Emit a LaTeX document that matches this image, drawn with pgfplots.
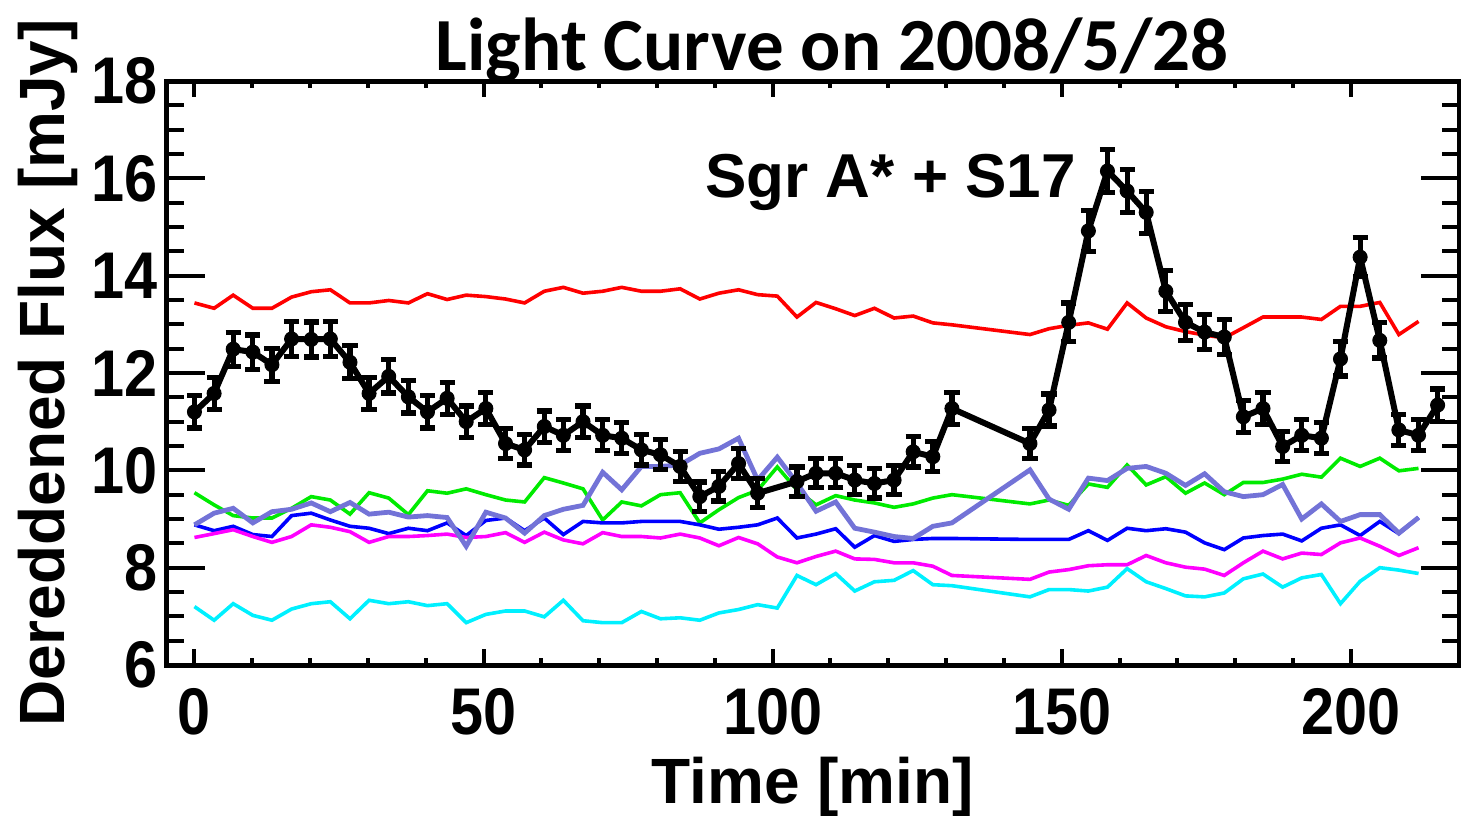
\documentclass[border=0pt]{standalone}
\usepackage{pgfplots}
\pgfplotsset{compat=1.18}
\usepackage{pgfplotstable}
\usepackage{fontspec}
\setmainfont{Liberation Sans}
\newfontfamily\titlefont{Carlito}
\newfontfamily\tickfont{Liberation Sans}[FakeStretch=0.9]

\definecolor{lcred}{RGB}{255,0,0}
\definecolor{lcgreen}{RGB}{0,235,0}
\definecolor{lcblue}{RGB}{0,0,255}
\definecolor{lcmagenta}{RGB}{255,0,255}
\definecolor{lccyan}{RGB}{0,240,255}
\definecolor{lcslate}{RGB}{115,115,215}

% time [min], Sgr A* + S17 flux and error, comparison stars
\pgfplotstableread{
t     black err  red   green blue magenta cyan purple
0.0   11.20 0.33 13.44 9.54  8.88 8.62 7.20 8.88
3.4   11.58 0.33 13.33 9.29  8.76 8.70 6.92 9.12
6.7   12.49 0.35 13.60 9.07  8.85 8.78 7.26 9.22
10.1  12.43 0.35 13.33 9.02  8.68 8.64 7.02 8.92
13.4  12.17 0.34 13.33 9.02  8.64 8.52 6.92 9.15
16.8  12.70 0.36 13.56 9.22  9.07 8.64 7.15 9.20
20.2  12.69 0.36 13.67 9.46  9.12 8.88 7.26 9.33
23.5  12.70 0.36 13.71 9.39  8.98 8.83 7.30 9.15
26.9  12.22 0.34 13.44 9.10  8.85 8.74 6.95 9.34
30.2  11.58 0.33 13.44 9.54  8.81 8.52 7.33 9.10
33.6  11.93 0.34 13.49 9.43  8.70 8.64 7.26 9.14
37.0  11.51 0.33 13.44 9.09  8.81 8.64 7.30 9.04
40.3  11.20 0.33 13.63 9.58  8.76 8.66 7.22 9.07
43.7  11.48 0.33 13.51 9.53  8.92 8.69 7.26 9.03
47.0  11.00 0.32 13.60 9.62  8.66 8.62 6.87 8.44
50.4  11.27 0.33 13.57 9.50  8.97 8.64 7.04 9.14
53.8  10.55 0.31 13.52 9.39  9.02 8.72 7.11 9.02
57.1  10.42 0.31 13.44 9.35  8.76 8.52 7.11 8.71
60.5  10.90 0.32 13.68 9.85  9.02 8.73 6.99 9.07
63.8  10.72 0.32 13.76 9.74  8.68 8.57 7.33 9.20
67.2  11.00 0.32 13.64 9.62  8.95 8.49 6.91 9.28
70.6  10.72 0.32 13.68 8.98  8.92 8.72 6.87 9.96
73.9  10.66 0.32 13.76 9.35  8.92 8.64 6.87 9.60
77.3  10.42 0.31 13.68 9.27  8.95 8.64 7.10 10.08
80.6  10.32 0.31 13.68 9.50  8.95 8.61 6.95 10.08
84.0  10.08 0.31 13.73 9.54  8.95 8.69 6.97 10.11
87.4  9.46  0.30 13.52 8.92  8.88 8.61 6.92 10.35
90.7  9.67  0.30 13.64 9.19  8.79 8.45 7.07 10.44
94.1  10.14 0.31 13.71 9.44  8.83 8.62 7.14 10.66
97.4  9.53  0.30 13.61 9.59  8.88 8.49 7.24 9.80
100.8 nan   nan  13.58 10.07 9.02 8.22 7.17 10.27
104.2 9.77  0.30 13.15 9.60  8.61 8.10 7.84 9.74
107.5 9.94  0.30 13.45 9.29  8.69 8.23 7.65 9.16
110.9 9.94  0.30 13.32 9.48  8.80 8.34 7.88 9.35
114.2 9.80  0.30 13.18 9.39  8.42 8.18 7.52 8.81
117.6 9.73  0.30 13.33 9.33  8.66 8.17 7.71 8.73
121.0 9.80  0.30 13.13 9.24  8.54 8.10 7.74 8.64
124.3 10.38 0.31 13.17 9.31  8.58 8.10 7.94 8.60
127.7 10.28 0.31 13.03 9.43  8.60 8.03 7.65 8.85
131.0 11.27 0.33 12.99 9.50  8.60 7.84 7.63 8.92
144.5 10.55 0.31 12.79 9.31  8.58 7.76 7.40 10.01
147.8 11.24 0.33 12.91 9.39  8.58 7.91 7.55 9.41
151.2 13.04 0.40 12.98 9.28  8.58 7.96 7.55 9.20
154.6 14.92 0.42 13.03 9.72  8.76 8.04 7.52 9.84
157.9 16.15 0.44 12.90 9.65  8.56 8.06 7.60 9.79
161.3 15.74 0.44 13.44 10.11 8.81 8.06 7.98 10.04
164.6 15.30 0.43 13.13 9.70  8.76 8.25 7.71 10.08
168.0 13.68 0.42 12.95 9.87  8.80 8.10 7.57 9.94
171.4 13.04 0.37 12.85 9.53  8.73 8.01 7.42 9.69
174.7 12.84 0.36 12.78 9.74  8.51 7.97 7.40 9.93
178.1 12.74 0.36 12.72 9.50  8.37 7.84 7.48 9.56
181.4 11.10 0.33 12.93 9.75  8.61 8.10 7.77 9.46
184.8 11.27 0.33 13.15 9.75  8.66 8.34 7.87 9.50
188.2 10.49 0.31 13.15 9.82  8.69 8.18 7.60 9.71
191.5 10.72 0.32 13.15 9.92  8.55 8.30 7.79 9.00
194.9 10.66 0.32 13.10 9.86  8.81 8.27 7.86 9.31
198.2 12.29 0.35 13.37 10.25 8.88 8.51 7.26 8.95
201.6 14.38 0.40 13.37 10.08 8.66 8.61 7.72 9.09
205.0 12.67 0.36 13.45 10.25 8.95 8.44 8.00 9.09
208.3 10.83 0.32 12.79 9.99  8.70 8.25 7.95 8.71
211.7 10.72 0.32 13.06 10.04 9.03 8.41 7.88 9.03
215.0 11.34 0.33 nan   nan   nan  nan  nan  nan
}\lcdata

\begin{document}
\begin{tikzpicture}
\begin{axis}[
    scale only axis,
    width=646.15pt, height=292pt,
    xmin=-4.8, xmax=218.7, ymin=6, ymax=18,
    xtick={0,50,...,200}, minor x tick num=4,
    ytick={6,8,...,18}, minor y tick num=3,
    axis line style={line width=2.5pt},
    tick style={line width=2pt, black},
    xtick style={/pgfplots/major tick length=8pt, /pgfplots/minor tick length=3.5pt},
    ytick style={/pgfplots/major tick length=19pt, /pgfplots/minor tick length=8.5pt},
    tick label style={font=\tickfont\fontsize{33}{36}\selectfont\bfseries},
    /pgf/number format/assume math mode=true,
    xticklabel style={inner sep=0pt, yshift=-11.5pt},
    yticklabel style={inner sep=0pt, xshift=-4.5pt},
    title={\titlefont\bfseries Light Curve on 2008/5/28},
    title style={at={(axis description cs:0.515,1)}, anchor=base, yshift=-0.5pt,
        inner sep=0pt, font=\fontsize{37.5}{40}\selectfont},
    xlabel={Time [min]},
    ylabel={Dereddened Flux [mJy]},
    every axis x label/.style={at={(axis description cs:0.5,0)}, anchor=base,
        yshift=-69pt, inner sep=0pt, font=\fontsize{32}{36}\selectfont\bfseries},
    every axis y label/.style={at={(axis description cs:-0.0787,0.5)}, rotate=90,
        anchor=base, inner sep=0pt, font=\fontsize{32}{36}\selectfont\bfseries},
]
\addplot[lcred, line width=1.8pt] table[x=t, y=red] {\lcdata};
\addplot[lcgreen, line width=1.8pt] table[x=t, y=green] {\lcdata};
\addplot[lcblue, line width=1.8pt] table[x=t, y=blue] {\lcdata};
\addplot[lcmagenta, line width=1.8pt] table[x=t, y=magenta] {\lcdata};
\addplot[lccyan, line width=1.8pt] table[x=t, y=cyan] {\lcdata};
\addplot[lcslate, line width=2.4pt] table[x=t, y=purple] {\lcdata};
\addplot[black, line width=3pt, mark=*, mark size=3.5pt,
    mark options={solid, fill=black, line width=0.5pt},
    error bars/.cd, y dir=both, y explicit, error mark=-,
    error bar style={line width=2.6pt, black},
    error mark options={rotate=90, line width=2.6pt, mark size=3.8pt, black}]
    table[x=t, y=black, y error=err] {\lcdata};
\node[anchor=base west, inner sep=0pt, font=\fontsize{31}{34}\selectfont\bfseries]
    at (axis cs:88.3,15.6) {Sgr A* + S17};
\end{axis}
\pgfresetboundingbox
\path[use as bounding box] ([shift={(-83.35pt,-75pt)}]current axis.south west)
    rectangle ([shift={(647.15pt,332.5pt)}]current axis.south west);
\end{tikzpicture}
\end{document}
